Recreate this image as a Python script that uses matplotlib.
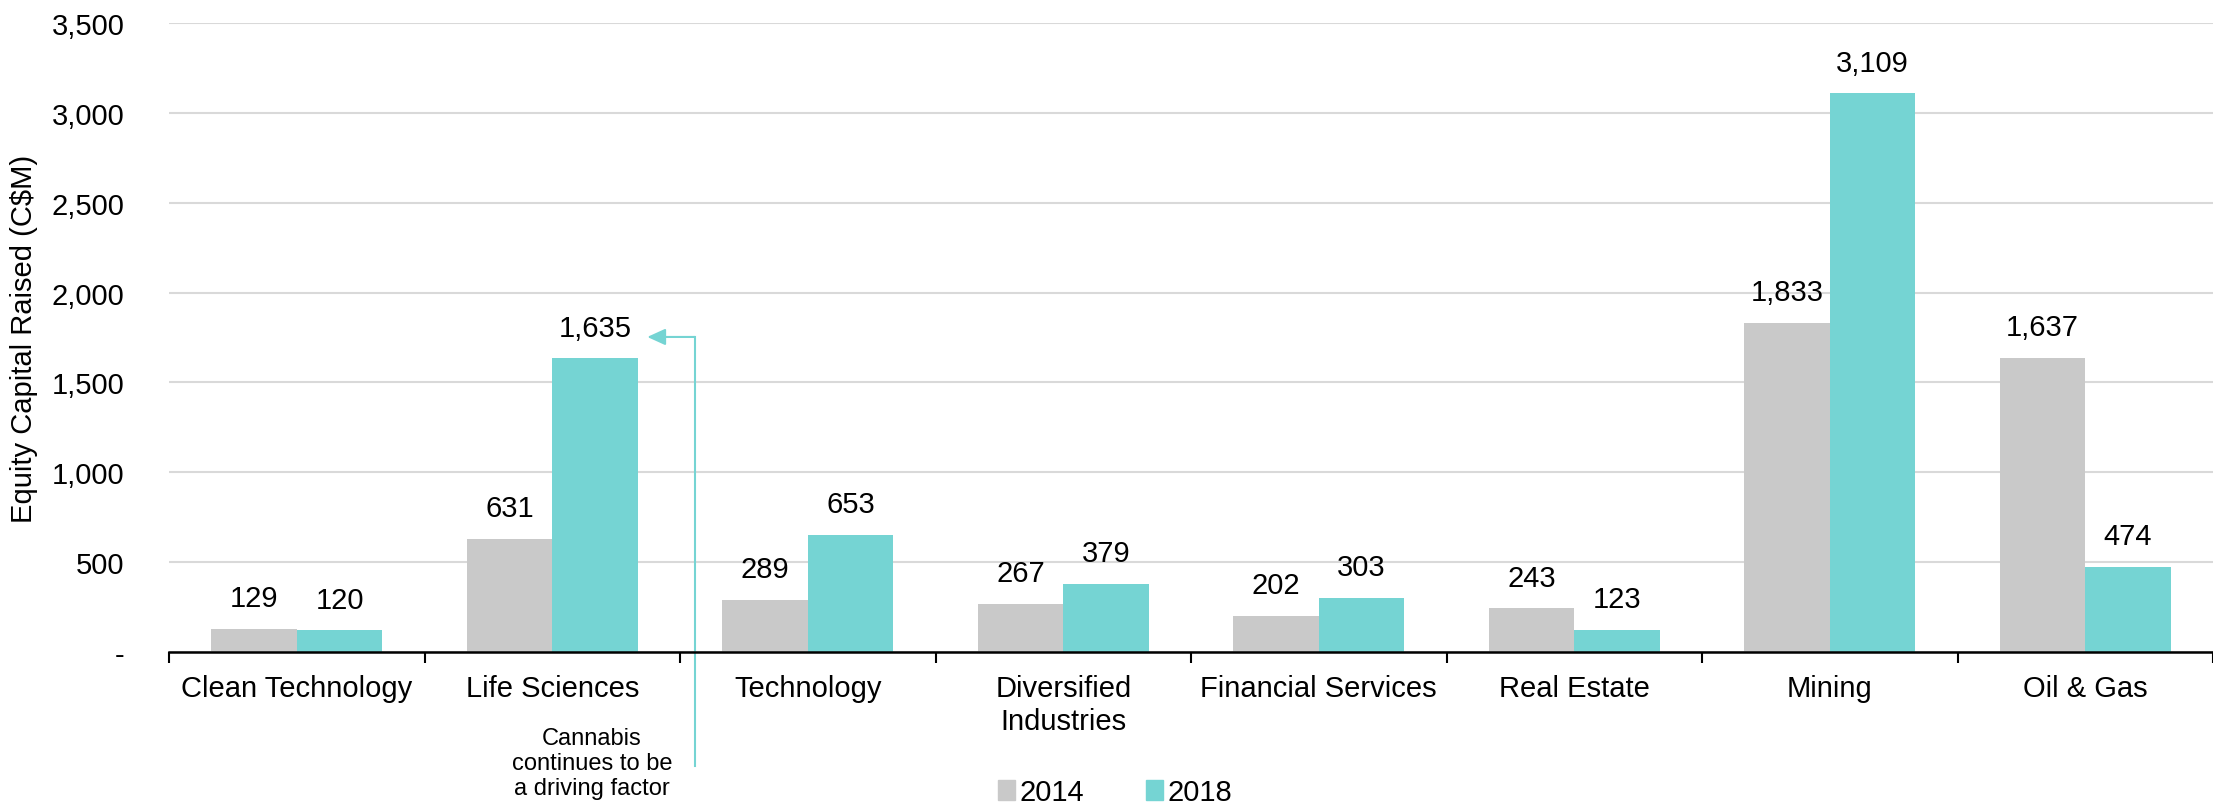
import matplotlib.pyplot as plt
from matplotlib.patches import Patch

plt.rcParams['font.family'] = ['Liberation Sans', 'DejaVu Sans']

categories = ['Clean Technology', 'Life Sciences', 'Technology', 'Diversified\nIndustries',
              'Financial Services', 'Real Estate', 'Mining', 'Oil & Gas']
vals_2014 = [129, 631, 289, 267, 202, 243, 1833, 1637]
vals_2018 = [120, 1635, 653, 379, 303, 123, 3109, 474]
yticks = [0, 500, 1000, 1500, 2000, 2500, 3000, 3500]
ytick_labels = ['-', '500', '1,000', '1,500', '2,000', '2,500', '3,000', '3,500']

gray = '#C9C9C9'
teal = '#75D4D3'
fs = 21

fig = plt.figure(figsize=(22.13, 8.04), dpi=100)
ax = fig.add_axes([169 / 2213, 151 / 804, 1 - 169 / 2213, 629 / 804])

x = range(len(categories))
w = 0.335
b1 = ax.bar([i - w / 2 for i in x], vals_2014, w, color=gray, zorder=2)
b2 = ax.bar([i + w / 2 for i in x], vals_2018, w, color=teal, zorder=2)

for bars, vals in ((b1, vals_2014), (b2, vals_2018)):
    for r, v in zip(bars, vals):
        ax.annotate(f'{v:,}', (r.get_x() + r.get_width() / 2, v), xytext=(0, 12),
                    textcoords='offset points', ha='center', va='bottom', fontsize=fs)

ax.set_ylim(0, 3500)
ax.set_xlim(-0.5, 7.43)
ax.set_yticks(yticks)
ax.set_yticklabels(ytick_labels)
ax.tick_params(axis='y', length=0, pad=32, labelsize=fs)
ax.set_xticks(list(x))
ax.set_xticklabels(categories)
ax.tick_params(axis='x', which='major', length=0, pad=16, labelsize=fs)
ax.set_xticks([i - 0.5 for i in range(len(categories) + 1)], minor=True)
ax.tick_params(axis='x', which='minor', length=8, width=1.5, color='black', direction='out')

ax.grid(axis='y', color='#D9D9D9', linewidth=1.5, zorder=0)
ax.set_axisbelow(True)
for s in ['top', 'right', 'left']:
    ax.spines[s].set_visible(False)
ax.spines['bottom'].set_linewidth(1.8)
ax.spines['bottom'].set_zorder(3)

ax.set_ylabel('Equity Capital Raised (C$M)', fontsize=fs)
ax.yaxis.set_label_coords(-0.064, 0.5)

# callout for life sciences
ax.plot([1.558, 1.558], [-634, 1753], color=teal, linewidth=1.5, clip_on=False)
ax.annotate('', xy=(1.372, 1753), xytext=(1.558, 1753),
            arrowprops=dict(arrowstyle='-|>,head_length=0.55,head_width=0.25',
                            mutation_scale=20, color=teal, lw=1.5, shrinkA=0, shrinkB=0))
fig.text(592 / 2213, 1 - 764 / 804, 'Cannabis\ncontinues to be\na driving factor',
         ha='center', va='center', fontsize=17, linespacing=1.15)

handles = [Patch(color=gray, label='2014'), Patch(color=teal, label='2018')]
fig.legend(handles=handles, loc='center', bbox_to_anchor=(1115 / 2213, 1 - 793 / 804), ncol=2,
           frameon=False, fontsize=fs, handlelength=0.6, handleheight=0.7,
           handletextpad=0.15, columnspacing=2.1)

fig.savefig('out.png', dpi=100)
